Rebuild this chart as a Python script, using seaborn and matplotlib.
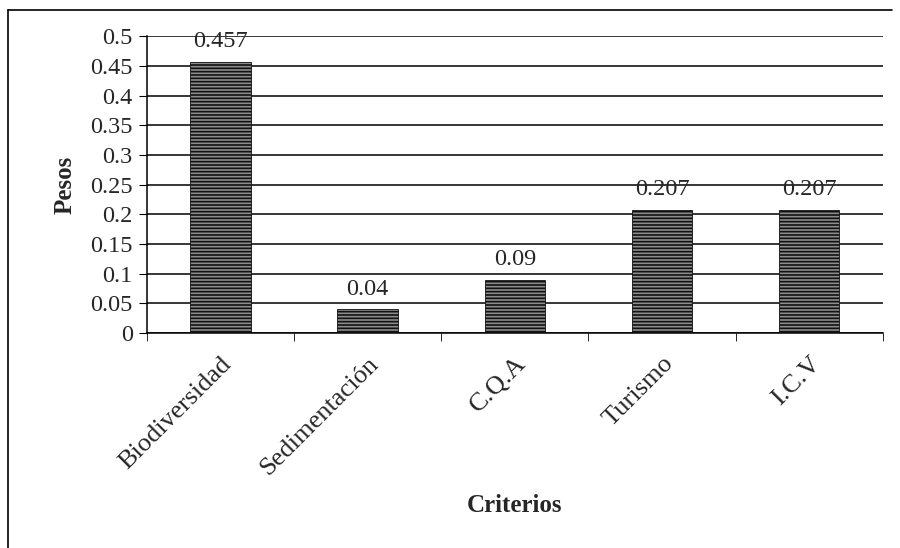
import matplotlib
matplotlib.use('Agg')
import matplotlib.pyplot as plt
import seaborn as sns
import pandas as pd
from matplotlib.lines import Line2D

criterios = ['Biodiversidad', 'Sedimentación', 'C.Q.A', 'Turismo', 'I.C.V']
pesos = [0.457, 0.04, 0.09, 0.207, 0.207]
etiquetas = ['0.457', '0.04', '0.09', '0.207', '0.207']
yticks = [0, 0.05, 0.1, 0.15, 0.2, 0.25, 0.3, 0.35, 0.4, 0.45, 0.5]

df = pd.DataFrame({'criterio': criterios, 'peso': pesos})

sns.set_style('white')
plt.rcParams['font.family'] = ['Liberation Serif', 'DejaVu Serif']
plt.rcParams['hatch.linewidth'] = 1.2

fig = plt.figure(figsize=(9, 5.48), dpi=100)
ax = fig.add_axes([0.163, 0.392, 0.818, 0.542])

sns.barplot(data=df, x='criterio', y='peso', ax=ax, color='#8c8c8c', width=0.41,
            saturation=1)
for bar in ax.patches:
    bar.set_hatch('-----')
    bar.set_edgecolor('#111111')
    bar.set_linewidth(0.6)

ax.set_ylim(0, 0.5)
ax.set_xlim(-0.5, len(criterios) - 0.5)
ax.set_yticks(yticks)
ax.set_yticklabels([f'{t:g}' for t in yticks], fontsize=17.5)
ax.yaxis.grid(True, color='black', linewidth=1.1)
ax.set_axisbelow(True)

# ticks between categories like Excel
ax.set_xticks(range(len(criterios)))
ax.set_xticklabels(criterios, rotation=45, ha='right', rotation_mode='anchor', fontsize=19)
ax.tick_params(axis='x', length=0, pad=14)
ax.set_xticks([i - 0.5 for i in range(len(criterios) + 1)], minor=True)
ax.tick_params(axis='x', which='minor', length=6, direction='out', color='black', bottom=True)
ax.tick_params(axis='y', length=6, direction='out', color='black', left=True, pad=4)

for s in ['top', 'right']:
    ax.spines[s].set_visible(False)
for s in ['left', 'bottom']:
    ax.spines[s].set_color('black')
    ax.spines[s].set_linewidth(1.1)

for i, (v, t) in enumerate(zip(pesos, etiquetas)):
    ax.annotate(t, (i, v), xytext=(0, 7), textcoords='offset points',
                ha='center', va='bottom', fontsize=17.5)

ax.set_ylabel('Pesos', fontsize=18, fontweight='bold', labelpad=10)
ax.set_xlabel('Criterios', fontsize=18, fontweight='bold')
ax.xaxis.set_label_coords(0.5, (1 - 505 / 548 - 0.392) / 0.542, transform=ax.transAxes)
ax.xaxis.label.set_va('center')

# scanned chart frame
fig.add_artist(Line2D([8 / 900, 8 / 900], [0, 1 - 10 / 548], color='black', linewidth=1.2,
                      transform=fig.transFigure))
fig.add_artist(Line2D([8 / 900, 892 / 900], [1 - 10 / 548, 1 - 10 / 548], color='black',
                      linewidth=1.2, transform=fig.transFigure))

fig.savefig('out.png', dpi=100)
